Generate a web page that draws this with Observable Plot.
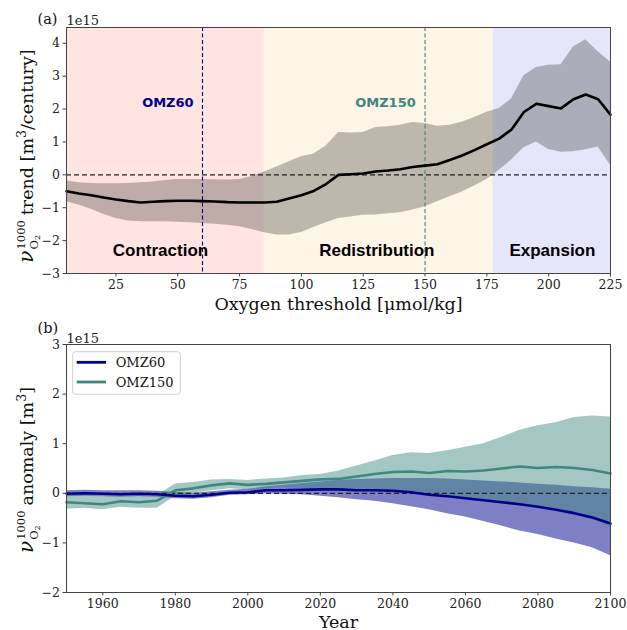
<!DOCTYPE html>
<html><head><meta charset="utf-8">
<script src="https://cdn.jsdelivr.net/npm/d3@7"></script>
<script src="https://cdn.jsdelivr.net/npm/@observablehq/plot@0.6"></script>
<style>
body{margin:0;background:#fff;}
#chart{width:627px;}
#chart svg{display:block;}
</style></head><body><div id="chart"></div>
<script>
// ---------- Panel (a) data ----------
const thresholds = [5,10,15,20,25,30,35,40,45,50,55,60,65,70,75,80,85,90,95,100,105,110,115,120,125,130,135,140,145,150,155,160,165,170,175,180,185,190,195,200,205,210,215,220,225];
const trendMean = [-0.5,-0.57,-0.62,-0.69,-0.75,-0.8,-0.84,-0.82,-0.8,-0.79,-0.79,-0.8,-0.81,-0.83,-0.84,-0.84,-0.84,-0.82,-0.72,-0.62,-0.49,-0.28,0.0,0.02,0.04,0.1,0.13,0.17,0.24,0.28,0.32,0.45,0.59,0.75,0.93,1.1,1.38,1.91,2.16,2.09,2.02,2.3,2.44,2.3,1.83];
const trendHigh = [-0.19,-0.24,-0.26,-0.27,-0.27,-0.26,-0.24,-0.22,-0.17,-0.14,-0.14,-0.14,-0.15,-0.16,-0.14,-0.05,0.09,0.24,0.4,0.55,0.63,0.88,1.29,1.27,1.29,1.44,1.46,1.51,1.59,1.56,1.48,1.51,1.6,1.74,1.9,2.02,2.31,3.01,3.26,3.33,3.35,3.89,4.11,3.74,3.43];
const trendLow = [-0.82,-0.92,-1.05,-1.2,-1.33,-1.4,-1.43,-1.43,-1.43,-1.44,-1.46,-1.48,-1.5,-1.53,-1.58,-1.66,-1.76,-1.83,-1.83,-1.75,-1.6,-1.46,-1.33,-1.28,-1.23,-1.22,-1.18,-1.15,-1.07,-0.97,-0.82,-0.67,-0.52,-0.34,-0.14,0.14,0.45,0.82,1.0,0.77,0.69,0.7,0.76,0.85,0.29];

const regionNames = ["Contraction","Redistribution","Expansion"];
const regionStart = [5,85,177.5];
const regionEnd = [85,177.5,225];
const regionColors = ["mistyrose","oldlace","lavender"];
const regionLabelX = [43,130.5,201.5];
const regionLabelY = -2.3;

const omzNames = ["OMZ60","OMZ150"];
const omzThreshold = [60,150];
const omzColors = ["#00008b","#3f8780"];
const omzLabelX = [46,134];
const omzLabelY = 2.18;

const xTicksA = [25,50,75,100,125,150,175,200,225];
const yTicksA = [-3,-2,-1,0,1,2,3,4];
const xDomainA = [5,225];
const yDomainA = [-3,4.48];

// ---------- Panel (b) data ----------
const years = [1950,1955,1960,1965,1970,1975,1980,1985,1990,1995,2000,2005,2010,2015,2020,2025,2030,2035,2040,2045,2050,2055,2060,2065,2070,2075,2080,2085,2090,2095,2100];
const omz60Mean = [-0.01,0.0,-0.01,-0.02,-0.01,-0.02,-0.05,-0.06,-0.03,0.01,0.02,0.06,0.06,0.07,0.08,0.08,0.06,0.06,0.05,0.02,-0.03,-0.06,-0.1,-0.14,-0.18,-0.22,-0.27,-0.33,-0.4,-0.49,-0.61];
const omz60High = [0.05,0.06,0.05,0.05,0.05,0.04,0.02,0.0,0.03,0.06,0.08,0.13,0.16,0.2,0.23,0.26,0.28,0.29,0.3,0.3,0.3,0.29,0.27,0.25,0.23,0.21,0.18,0.16,0.13,0.11,0.08];
const omz60Low = [-0.07,-0.06,-0.07,-0.08,-0.07,-0.08,-0.11,-0.12,-0.09,-0.04,-0.03,-0.01,-0.02,-0.03,-0.06,-0.09,-0.13,-0.16,-0.21,-0.27,-0.33,-0.41,-0.48,-0.57,-0.66,-0.76,-0.83,-0.92,-1.0,-1.1,-1.26];
const omz150Mean = [-0.18,-0.2,-0.22,-0.16,-0.18,-0.15,0.06,0.1,0.16,0.2,0.17,0.19,0.22,0.25,0.28,0.29,0.34,0.39,0.43,0.44,0.41,0.45,0.44,0.46,0.5,0.54,0.51,0.53,0.51,0.47,0.4];
const omz150High = [-0.03,-0.05,-0.07,-0.05,-0.07,-0.05,0.19,0.22,0.27,0.28,0.26,0.29,0.31,0.36,0.38,0.45,0.55,0.65,0.76,0.82,0.8,0.86,0.93,1.0,1.13,1.27,1.36,1.42,1.53,1.56,1.54];
const omz150Low = [-0.32,-0.3,-0.33,-0.28,-0.3,-0.3,-0.06,0.0,0.05,0.09,0.07,0.09,0.12,0.1,0.08,0.07,0.06,0.05,0.03,0.0,-0.04,-0.07,-0.12,-0.16,-0.2,-0.25,-0.3,-0.36,-0.44,-0.53,-0.68];

const xTicksB = [1960,1980,2000,2020,2040,2060,2080,2100];
const yTicksB = [-2,-1,0,1,2,3];
const xDomainB = [1950,2100];
const yDomainB = [-2,3];

// ---------- build ----------
const serif = "DejaVu Serif";
const axisColor = "#444";

const trend = thresholds.map((t,i)=>({t, mean:trendMean[i], lo:trendLow[i], hi:trendHigh[i]}));
const regions = regionNames.map((n,i)=>({n, x1:regionStart[i], x2:regionEnd[i], c:regionColors[i], lx:regionLabelX[i]}));
const omz = omzNames.map((n,i)=>({n, t:omzThreshold[i], c:omzColors[i], lx:omzLabelX[i]}));
const rows60 = years.map((y,i)=>({yr:y, m:omz60Mean[i], lo:omz60Low[i], hi:omz60High[i]}));
const rows150 = years.map((y,i)=>({yr:y, m:omz150Mean[i], lo:omz150Low[i], hi:omz150High[i]}));

const chart = document.getElementById("chart");

const plotA = Plot.plot({
  width:627, height:315, marginLeft:66, marginRight:17, marginTop:27, marginBottom:42,
  x:{domain:xDomainA}, y:{domain:yDomainA},
  color:{type:"identity"},
  style:{fontFamily:serif, fontSize:"12.5px", color:"#222", background:"white"},
  marks:[
    Plot.rect(regions, {x1:"x1", x2:"x2", fill:"c"}),
    Plot.areaY(trend, {x:"t", y1:"lo", y2:"hi", fill:"black", fillOpacity:0.25}),
    Plot.ruleY([0], {stroke:"#222", strokeDasharray:"5,3", strokeWidth:1.3}),
    Plot.ruleX(omz, {x:"t", stroke:"c", strokeDasharray:"4,2.5", strokeWidth:1.1}),
    Plot.lineY(trend, {x:"t", y:"mean", stroke:"black", strokeWidth:2.6}),
    Plot.text(omz, {x:"lx", y:()=>omzLabelY, text:"n", fill:"c", fontFamily:"DejaVu Sans", fontWeight:"bold", fontSize:13}),
    Plot.text(regions, {x:"lx", y:()=>regionLabelY, text:"n", fill:"black", fontFamily:"Liberation Sans", fontWeight:"bold", fontSize:17}),
    Plot.frame({stroke:axisColor}),
    Plot.axisX({ticks:xTicksA, tickSize:3.5, tickPadding:3, label:null, stroke:axisColor}),
    Plot.axisY({ticks:yTicksA, tickFormat:"d", tickSize:3.5, tickPadding:3, label:null, stroke:axisColor}),
    Plot.text(["Oxygen threshold [μmol/kg]"], {text:d=>d, frameAnchor:"bottom", dy:36, lineAnchor:"bottom", fontSize:17.5, fill:"#111"}),
    Plot.text(["(a)"], {text:d=>d, frameAnchor:"top-left", dx:-29, dy:-4, lineAnchor:"bottom", textAnchor:"start", fontSize:14.5, fill:"#111"}),
    Plot.text(["1e15"], {text:d=>d, frameAnchor:"top-left", dx:0, dy:-3, lineAnchor:"bottom", textAnchor:"start", fontSize:13, fill:"#222"})
  ]
});
chart.appendChild(plotA);

const plotB = Plot.plot({
  width:627, height:315, marginLeft:66, marginRight:17, marginTop:29, marginBottom:38,
  x:{domain:xDomainB}, y:{domain:yDomainB},
  style:{fontFamily:serif, fontSize:"12.5px", color:"#222", background:"white"},
  marks:[
    Plot.areaY(rows60, {x:"yr", y1:"lo", y2:"hi", fill:omzColors[0], fillOpacity:0.5}),
    Plot.areaY(rows150, {x:"yr", y1:"lo", y2:"hi", fill:omzColors[1], fillOpacity:0.47}),
    Plot.ruleY([0], {stroke:"#222", strokeDasharray:"5,3", strokeWidth:1.3}),
    Plot.lineY(rows150, {x:"yr", y:"m", stroke:omzColors[1], strokeWidth:2.6}),
    Plot.lineY(rows60, {x:"yr", y:"m", stroke:omzColors[0], strokeWidth:2.6}),
    Plot.frame({stroke:axisColor}),
    Plot.axisX({ticks:xTicksB, tickFormat:"d", tickSize:3.5, tickPadding:3, label:null, stroke:axisColor}),
    Plot.axisY({ticks:yTicksB, tickFormat:"d", tickSize:3.5, tickPadding:3, label:null, stroke:axisColor}),
    Plot.text(["Year"], {text:d=>d, frameAnchor:"bottom", dy:35, lineAnchor:"bottom", fontSize:17.5, fill:"#111"}),
    Plot.text(["(b)"], {text:d=>d, frameAnchor:"top-left", dx:-29, dy:-11.5, lineAnchor:"bottom", textAnchor:"start", fontSize:14.5, fill:"#111"}),
    Plot.text(["1e15"], {text:d=>d, frameAnchor:"top-left", dx:0, dy:-2, lineAnchor:"bottom", textAnchor:"start", fontSize:13, fill:"#222"})
  ]
});
chart.appendChild(plotB);

// y-axis labels with stacked super/subscripts
function addYLabel(svg, cx, cy, word, unitBase, unitSup, unitTail) {
  const g = d3.select(svg).append("g")
    .attr("transform", `translate(${cx},${cy}) rotate(-90)`)
    .attr("font-family", serif).attr("fill", "#111").attr("text-anchor", "start");
  const inner = g.append("g");
  const main = inner.append("text").attr("font-size", 20).attr("font-style","italic").attr("text-anchor","start").text("ν");
  const w0 = main.node().getComputedTextLength();
  const sup = inner.append("text").attr("font-size", 11.5).attr("text-anchor","start").attr("x", w0 + 1).attr("y", -8).text("1000");
  const sub = inner.append("text").attr("font-size", 11.5).attr("text-anchor","start").attr("x", w0 + 1).attr("y", 5);
  sub.append("tspan").text("O");
  sub.append("tspan").attr("font-size", 8).attr("dy", 2).text("2");
  const ws = Math.max(sup.node().getComputedTextLength(), sub.node().getComputedTextLength());
  const rest = inner.append("text").attr("font-size", 17.5).attr("text-anchor","start").attr("x", w0 + 1 + ws + 5);
  rest.append("tspan").text(word + " [" + unitBase);
  if (unitSup) rest.append("tspan").attr("font-size", 12.5).attr("dy", -7).text(unitSup);
  if (unitTail) rest.append("tspan").attr("dy", unitSup ? 7 : 0).text(unitTail);
  const total = w0 + 1 + ws + 5 + rest.node().getComputedTextLength();
  inner.attr("transform", `translate(${-total/2},0)`);
}
addYLabel(plotA, 33, 156, "trend", "m", "3", "/century]");
addYLabel(plotB, 33, 155, "anomaly", "m", "3", "]");

// legend for panel (b)
const lg = d3.select(plotB).append("g").attr("font-family", serif).attr("text-anchor", "start");
lg.append("rect").attr("x", 72.7).attr("y", 36.7).attr("width", 107.6).attr("height", 42.6)
  .attr("rx", 3).attr("fill", "white").attr("fill-opacity", 0.8).attr("stroke", "#d0d0d0");
omzNames.forEach((n, i) => {
  const yy = 47.3 + i * 19.7;
  lg.append("line").attr("x1", 76.7).attr("x2", 106).attr("y1", yy).attr("y2", yy)
    .attr("stroke", omzColors[i]).attr("stroke-width", 2.8);
  lg.append("text").attr("x", 115.7).attr("y", yy + 4.5).attr("font-size", 13).attr("fill", "#111").text(n);
});
</script></body></html>
